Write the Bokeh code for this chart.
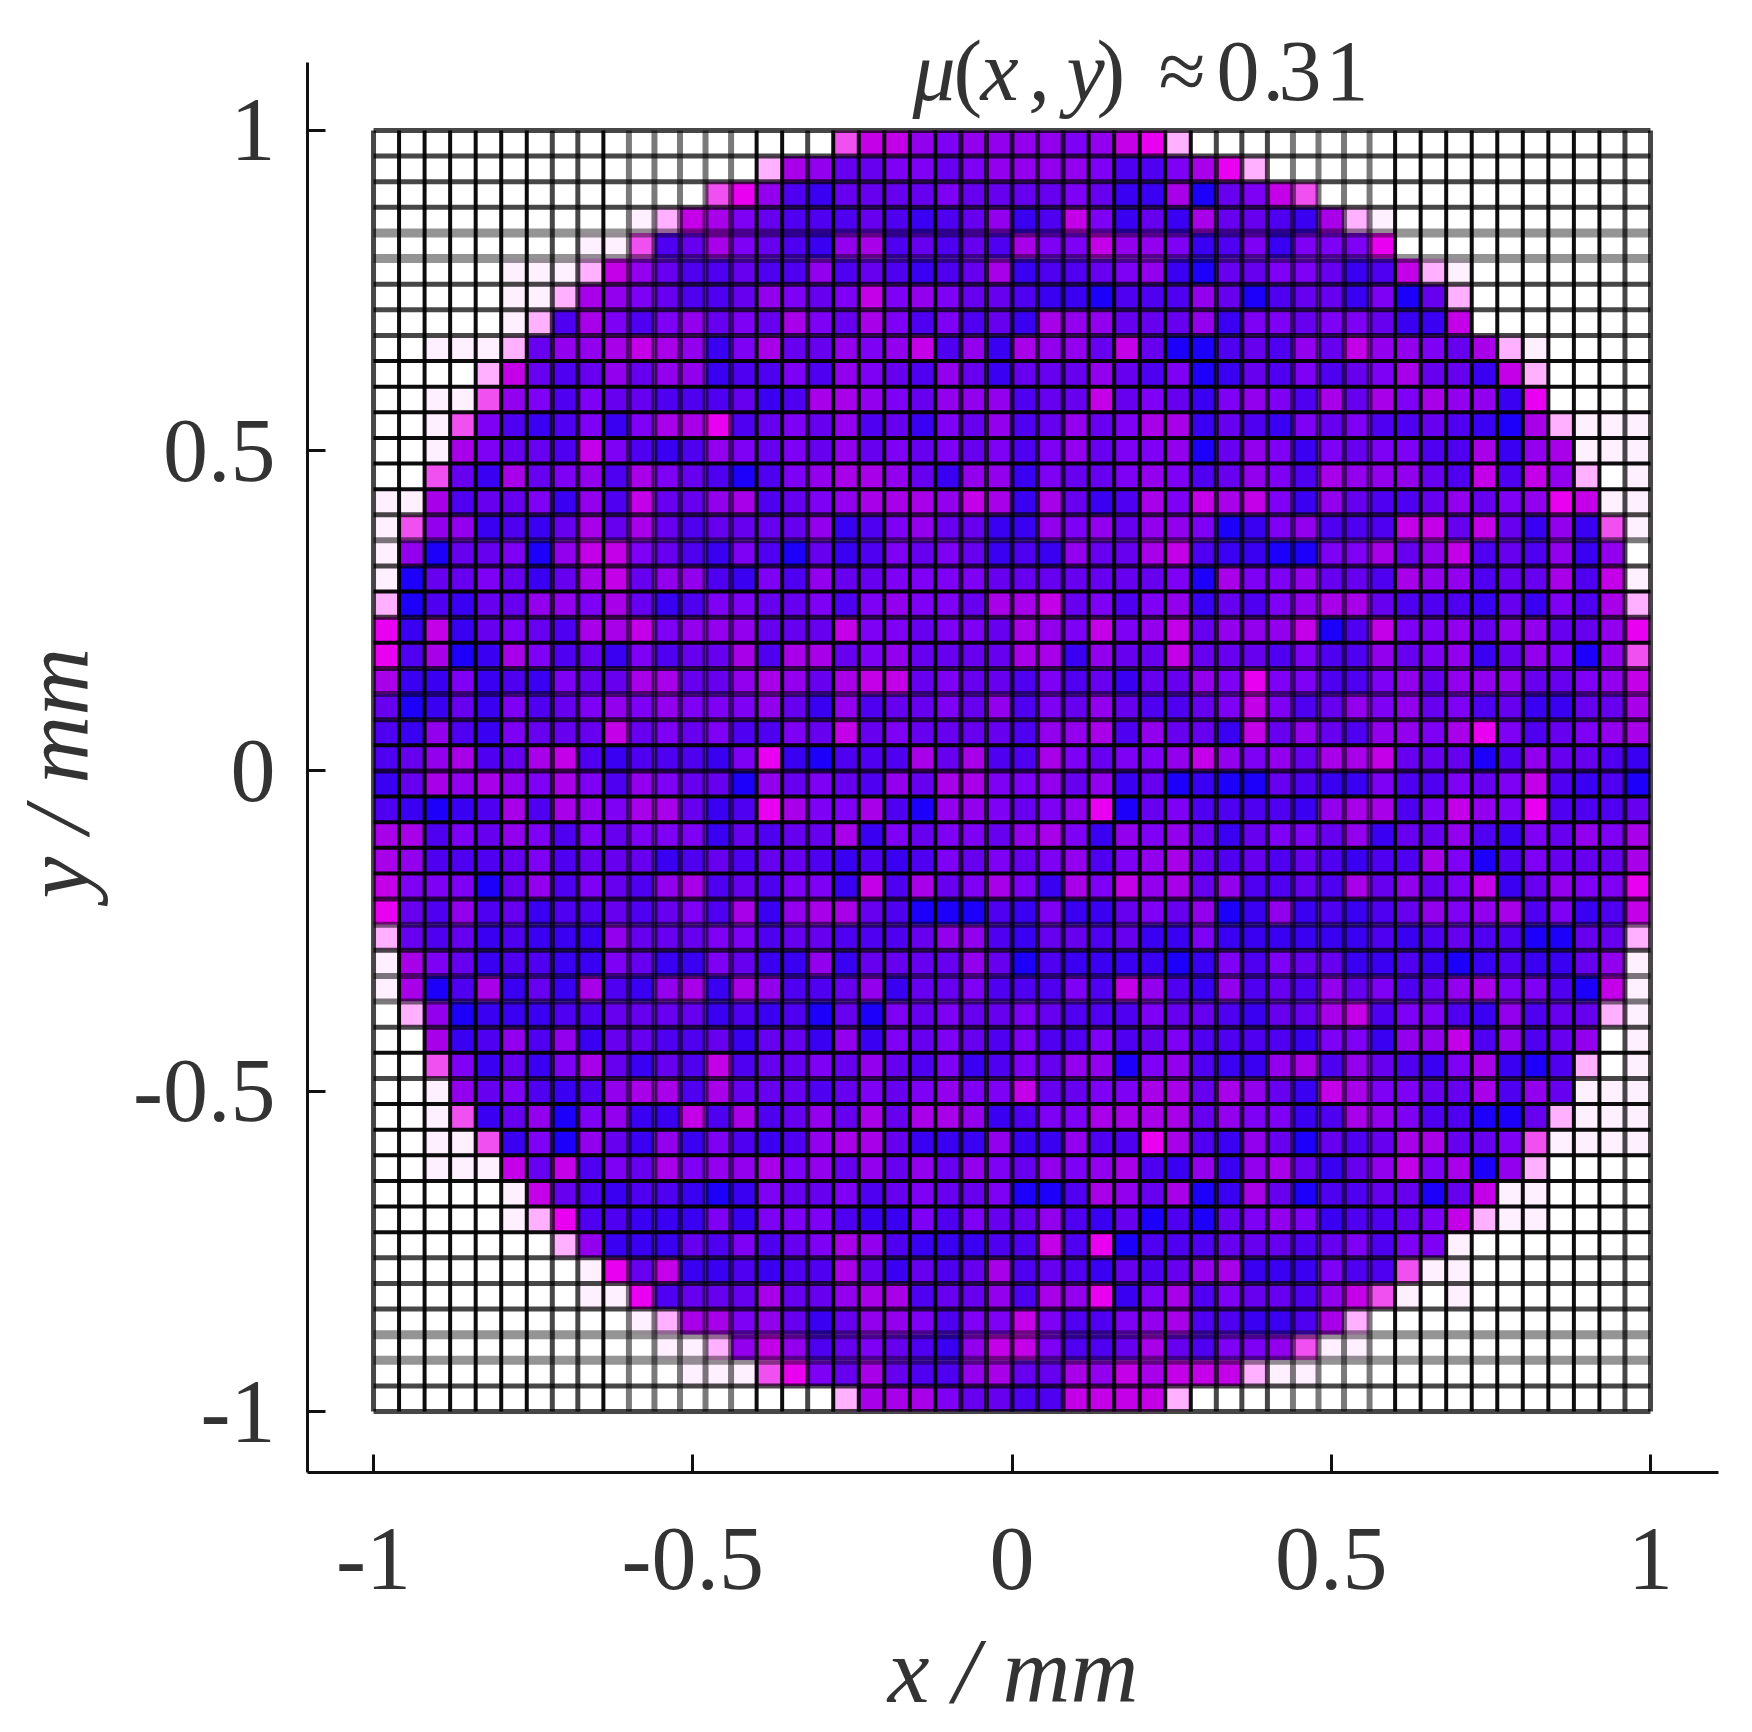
from bokeh.plotting import figure
from bokeh.models import ColumnDataSource, Label, FixedTicker, Title
from bokeh.embed import file_html
from bokeh.resources import INLINE

# one character per cell: 0 (low, blue) .. 9 (high, magenta), A pale, "," very pale, "." empty
left_half = [
"..................9775455",
"...............A653344345",
".............985213333433",
"..........,A7643222321235",
"........,,923643215623232",
".....,,,A7532232252321236",
".....,,A65432235434745433",
".....,A264245343643642423",
"..,,,A3556765146335457251",
"....A73235355122425432531",
"..,," "9542433222" "3126654355" "5",
"..," "9421241466" "8234352314" "35",
"..," "6433274212" "5434353434" "34",
".." "9316345264" "3202456653" "155",
",," "6233415273" "3562345666" "576",
",9" "5512136363" "2333351245" "331",
",5" "0334057743" "2142031243" "431",
",0" "3343136735" "5214253344" "443",
"A0" "2133554631" "2443342454" "436",
"81" "7134326674" "5553337443" "443",
"82" "6016423142" "3362663453" "333",
"61" "1412143366" "3356536773" "433",
"30" "1314234545" "4445315233" "435",
"21" "5214333734" "3422437343" "333",
"23" "5623672122" "2148102226" "362",
"13" "6565464254" "3305343253" "664",
"21" "0126265466" "3128644620" "554",
"66" "2435424344" "4132336143" "443",
"65" "2223423331" "2323321212" "434",
"74" "4403524325" "6232441726" "346",
"83" "2523122323" "4261566320" "002",
"A3" "2312111533" "3442332223" "552",
",6" "4312211431" "1431151333" "353",
",6" "0261316215" "6165223513" "342",
".A" "5011122333" "3121203043" "433",
".." "6125251332" "2313315143" "432",
".." "9413146313" "2723343532" "412",
"..," "5342125662" "6333234345" "44",
"..," "9135045117" "2623536366" "51",
"..,," "9140531514" "2125663111" "5",
"..,,," "7372436455" "6453535354",
".....," "7321221014" "334234334",
".....,A" "8221114144" "42114243",
".......A" "5111324234" "6521112",
"........," "8371121226" "313236",
"........,," "8233363356" "62335",
"..........,A" "6645313554244",
"...........,,A" "57523432157",
"............,,," "9843632256",
".................." "A666433",
]
right_half = [
"554578A" "..................",
"555422468A" "...............",
"334311603479" ".............",
"1274131633216A," "..........",
"644755412414448" "..........",
"1223451033443127A," ".......",
"21102225302331403A" ".......",
"165533351443443117" ".......",
"6553730023253755436A," "....",
"3335324013" "2423463317" "A" "....",
"2337343145" "4263646551" "8" "....",
"2353466132" "1434223210" "6A,,,",
"2453445035" "4143442261" "56,,,",
"1433454235" "4265553272" "75A.,",
"1631264767" "4153223534" "587,,",
"1545355401" "4522277373" "1519,",
"2153367211" "0044635723" "2515.",
"3333334064" "4533265523" "3627,",
"6734245132" "4566322213" "1426A",
"6547457355" "5702744535" "53358",
"6615337333" "2422534513" "54059",
"2423133548" "4422453555" "33457",
"2435322347" "4235453423" "11336",
"2556253317" "3532554684" "23456",
"2643445754" "5366733302" "53321",
"4535130100" "3211422434" "72120",
"3458034222" "2156624754" "82223",
"5641545313" "4435133521" "43546",
"3452456323" "2321226402" "43336",
"4164756352" "2326353471" "35448",
"1411343501" "5121235456" "24127",
"1332311411" "1111212322" "0033A",
"0211110142" "4331121012" "1135,",
"2242752152" "3253423564" "4207,",
"4322243321" "3367244215" "233A,",
"4224234222" "2144155725" "235.,",
"4355045211" "5625321461" "02A.,",
"7334466365" "3176443362" "53,,,",
"2446666354" "4126542200" "3A,,,",
"1152286215" "3032366334" "9,,,,",
"3545621515" "6313574605" "A....",
"0026536016" "302233037," ",....",
"3521302034" "54122347A," ",....",
"2728022233" "3234244" "," ".......",
"2321323561" "114229,," ".......",
"2658146243" "32579,.," ".......",
"7422456221126A" "...........",
"742236324459,," "...........",
"336576777A,," ".............",
"227777A" "..................",
]
y_ticks = [-1, -0.5, 0, 0.5, 1]
x_ticks = [-1, -0.5, 0, 0.5, 1]
tick_labels = {-1: "-1", -0.5: "-0.5", 0: "0", 0.5: "0.5", 1: "1"}
x_title = "x / mm"
y_title = "y / mm"

assert all(len(s) == 25 for s in left_half), [i for i, s in enumerate(left_half) if len(s) != 25]
assert all(len(s) == 25 for s in right_half), [i for i, s in enumerate(right_half) if len(s) != 25]

level_colors = {
    "0": "#1c00fa", "1": "#3a00f2", "2": "#5000f0", "3": "#6800f0", "4": "#7e00f5",
    "5": "#9200ee", "6": "#a800e8", "7": "#c400e8", "8": "#ea00f0", "9": "#f050f0",
    "A": "#ffb0ff", ",": "#fff0ff", ".": "#ffffff",
}
# grid line looks, across the 51 lines: t thin black, m medium, g wide grey, G widest grey
line_look = {"t": (4, 0.95), "m": (5, 0.72), "g": (6, 0.52), "G": (9, 0.42)}
v_lines = "mttttttmmtgggggttmtttttmmmmmtttttmmmggggtttttttttmm"[:51]
h_lines = "mmmmGGmmmttttttmgmtmtmgmtmttttmgmggmtmttttttmmmGGmm"[:51]

rows = [a + b for a, b in zip(left_half, right_half)]
n = 50
dx = 2 / n
xs, ys, cs = [], [], []
for r, row in enumerate(rows):
    for c, ch in enumerate(row):
        xs.append(-1 + dx * (c + 0.5))
        ys.append(1 - dx * (r + 0.5))
        cs.append(level_colors[ch])

x0, x1 = -1.1034, 1.1065
y0, y_axis_top = -1.0952, 1.1061
y1 = 1 + (130 - 20) / 641
p = figure(width=1744, height=1724, output_backend="svg", toolbar_location=None,
           x_range=(x0, x1), y_range=(y0, y1),
           min_border_left=307, min_border_right=26, min_border_top=20, min_border_bottom=251,
           background_fill_color="white", border_fill_color="white")
p.outline_line_color = None
p.grid.visible = False

p.rect(x="x", y="y", width=dx, height=dx, fill_color="c", line_color=None,
       source=ColumnDataSource(dict(x=xs, y=ys, c=cs)))

v = [(-1 + dx * i, line_look[v_lines[i]]) for i in range(n + 1)]
h = [(-1 + dx * i, line_look[h_lines[n - i]]) for i in range(n + 1)]
p.segment(x0=[a for a, _ in v], x1=[a for a, _ in v], y0=[-1] * (n + 1), y1=[1] * (n + 1),
          line_color="black", line_width=[b[0] for _, b in v], line_alpha=[b[1] for _, b in v])
p.segment(x0=[-1] * (n + 1), x1=[1] * (n + 1), y0=[a for a, _ in h], y1=[a for a, _ in h],
          line_color="black", line_width=[b[0] for _, b in h], line_alpha=[b[1] for _, b in h])

FONT = "Liberation Serif"
for ax, ticks in ((p.xaxis[0], x_ticks), (p.yaxis[0], y_ticks)):
    ax.ticker = FixedTicker(ticks=ticks)
    ax.major_label_overrides = tick_labels
    ax.major_label_text_font = FONT
    ax.major_label_text_font_size = "90px"
    ax.major_label_text_color = "#333333"
    ax.major_tick_in = 18
    ax.major_tick_out = 0
    ax.minor_tick_line_color = None
    ax.major_tick_line_width = 3
    ax.major_tick_line_color = "#111111"
    ax.axis_line_width = 3
    ax.axis_line_color = "#111111"
p.xaxis[0].axis_label = x_title
p.xaxis[0].axis_label_text_font = FONT
p.xaxis[0].axis_label_text_font_style = "italic"
p.xaxis[0].axis_label_text_font_size = "94px"
p.xaxis[0].axis_label_text_color = "#333333"
p.yaxis[0].bounds = (y0, y_axis_top)
p.xaxis[0].major_label_standoff = 56
p.xaxis[0].axis_label_standoff = 26
p.yaxis[0].major_label_standoff = 32
p.yaxis[0].major_label_orientation = "horizontal"
# blank axis label: only widens the axis panel, to push the y title outward
p.yaxis[0].axis_label = " "
p.yaxis[0].axis_label_text_font_size = "16px"
p.yaxis[0].axis_label_standoff = 3

# y label set as a left title so that it can sit on the axis' own middle, not the taller frame's
p.add_layout(Title(text=y_title, align="left", offset=574, standoff=0, text_font=FONT,
                   text_font_style="italic", text_font_size="94px", text_color="#333333"), "left")

def px(v):
    return (v - 373) / 638.5 - 1
TITLE_Y = 1 - (71 - 130) / 641
title_parts = [("μ", 912, "italic"), ("(", 953, "normal"), ("x", 980, "italic"), (",", 1028, "italic"),
               ("y", 1066, "italic"), (")", 1096, "normal"), ("≈", 1158, "normal"), ("0", 1216, "normal"),
               (".", 1262, "normal"), ("3", 1278, "normal"), ("1", 1325, "normal")]
for txt, xp, style in title_parts:
    p.add_layout(Label(x=px(xp), y=TITLE_Y, text=txt, text_font=FONT, text_font_size="86px",
                       text_font_style=style, text_color="#333333", text_baseline="alphabetic"))

open("out.html", "w").write(file_html(p, INLINE))
